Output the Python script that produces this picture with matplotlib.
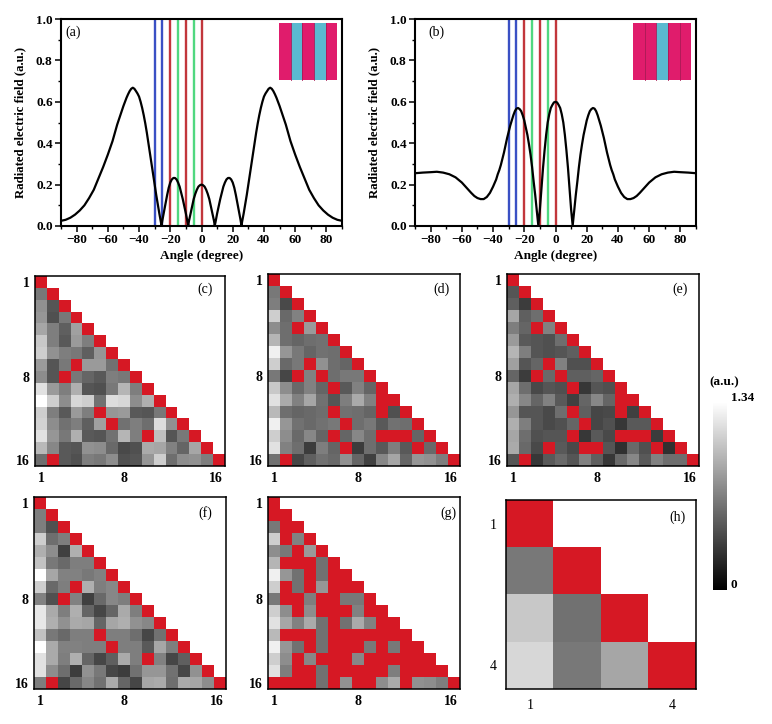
#!/usr/bin/env python3
"""Radiated field patterns (a, b) and correlation triangles (c-h)."""
import matplotlib
matplotlib.use("Agg")
import matplotlib.pyplot as plt
import numpy as np
from matplotlib.cm import ScalarMappable
from matplotlib.colors import ListedColormap, Normalize
from matplotlib.patches import Rectangle

plt.rcParams["font.family"] = ["Liberation Serif", "DejaVu Serif"]

W, H = 772, 724
R = None  # red cell

# --- field patterns, angle in degrees ---
angle_a = [-90, -87, -84, -81, -78, -75, -72, -69, -66, -63, -60, -57, -54, -52, -50, -49, -48, -47, -46, -45, -44,
           -43, -42, -41, -40, -39, -38, -37, -36, -35, -34, -33, -32, -31, -30, -29, -28, -27, -26, -25.6,
           -25, -24, -23, -22, -21, -20, -19, -18, -17, -16, -15, -14, -13, -12, -11, -10, -9, -8.5,
           -8, -7, -6, -5, -4, -3, -2, -1, 0,
           1, 2, 3, 4, 5, 6, 7, 8, 8.5,
           9, 10, 11, 12, 13, 14, 15, 16, 17, 18, 19, 20, 21, 22, 23, 24, 25, 25.6,
           26, 27, 28, 29, 30, 31, 32, 33, 34, 35, 36, 37, 38, 39, 40, 41, 42, 43,
           44, 45, 46, 47, 48, 49, 50, 52, 54, 57, 60, 63, 66, 69, 72, 75, 78, 81, 84, 87, 90]
field_a = [.025, .03, .04, .055, .075, .10, .135, .175, .23, .285, .345, .41, .49, .535, .58, .60, .62, .637, .652, .663, .668,
           .663, .652, .64, .625, .60, .57, .535, .495, .45, .40, .35, .30, .25, .20, .15, .105, .06, .02, .002,
           .03, .07, .11, .15, .185, .21, .225, .232, .232, .225, .21, .19, .16, .13, .095, .06, .02, .002,
           .025, .06, .095, .13, .155, .175, .19, .197, .20,
           .197, .19, .175, .155, .13, .095, .06, .025, .002,
           .02, .06, .095, .13, .16, .19, .21, .225, .232, .232, .225, .21, .185, .15, .11, .07, .03, .002,
           .02, .06, .105, .15, .20, .25, .30, .35, .40, .45, .495, .535, .57, .60, .625, .64, .652, .663,
           .668, .663, .652, .637, .62, .60, .58, .535, .49, .41, .345, .285, .23, .175, .135, .10, .075, .055, .04, .03, .025]

angle_b = [-90, -85, -80, -76, -72, -68, -64, -60, -57, -54, -52, -50, -48, -46, -44, -42, -40, -38, -37, -36, -35, -34,
           -33, -32, -31, -30, -29, -28, -27, -26, -25, -24, -23, -22, -21, -20, -19, -18, -17, -16, -15, -14, -13, -12, -11,
           -10, -9, -8, -7, -6, -5, -4, -3, -2, -1, 0,
           1, 2, 3, 4, 5, 6, 7, 8, 9, 10,
           11, 12, 13, 14, 15, 16, 17, 18, 19, 20, 21, 22, 23, 24, 25, 26, 27, 28, 29, 30, 31, 32, 33,
           34, 35, 36, 37, 38, 40, 42, 44, 46, 48, 50, 52, 54, 57, 60, 64, 68, 72, 76, 80, 85, 90]
field_b = [.255, .258, .26, .262, .258, .25, .235, .21, .185, .16, .145, .135, .13, .13, .14, .16, .19, .225, .25, .27, .295, .325,
           .355, .39, .425, .455, .485, .51, .535, .555, .567, .57, .565, .555, .535, .51, .475, .44, .395, .345, .285, .215, .15, .075, .002,
           .08, .18, .28, .365, .44, .50, .54, .57, .585, .597, .60,
           .597, .585, .57, .54, .50, .44, .365, .28, .18, .08,
           .002, .075, .15, .215, .285, .345, .395, .44, .475, .51, .535, .555, .565, .57, .567, .555, .535, .51, .485, .455, .425, .39, .355,
           .325, .295, .27, .25, .225, .19, .16, .14, .13, .13, .135, .145, .16, .185, .21, .235, .25, .258, .262, .26, .258, .255]

beam_angles = [-30, -25, -20, -15, -10, -5, 0]
beam_colors = ["#3a50c4", "#3a50c4", "#c2363c", "#50d880", "#c2363c", "#50d880", "#c2363c"]

layers_a = ["p", "t", "p", "t", "p"]
layers_b = ["p", "p", "t", "p", "p"]
layer_colors = {"p": "#e01c6c", "t": "#5abad0"}

# --- correlation values (a.u., 0-1.34), lower triangles ---
mat_c = [
    [R],
    [.63, R],
    [.76, .45, R],
    [.79, .42, .63, R],
    [.87, .66, .50, .84, R],
    [1.05, .66, .47, .81, .66, R],
    [1.08, .76, .66, .63, .50, .79, R],
    [.81, .45, .63, R, .81, .81, .60, R],
    [.74, .45, R, .63, .53, .47, .66, .63, R],
    [1.18, .81, .66, .92, .45, .42, .63, .95, .66, R],
    [1.34, 1.08, .74, 1.13, 1.08, .60, 1.16, 1.13, .74, .92, R],
    [1.08, .66, .47, .81, .66, R, .79, .81, .47, .45, .63, R],
    [1.10, .74, .60, .66, .50, .84, R, .60, .66, .58, 1.16, .76, R],
    [1.18, .79, .63, .92, .47, .45, .60, .95, .66, R, 1.00, .45, .63, R],
    [.97, .71, .47, .45, .76, .74, .55, .39, .42, .89, .87, .68, .53, .87, R],
    [.58, R, .47, .42, .66, .63, .74, .42, .45, .79, 1.08, .58, .74, .76, .66, R],
]
mat_d = [
    [R],
    [.63, R],
    [.66, .39, R],
    [1.08, .55, .68, R],
    [.74, .58, R, .81, R],
    [.95, .58, .53, .58, .60, R],
    [1.26, .79, .63, .53, .60, .58, R],
    [1.08, .55, .63, R, .76, .58, .53, R],
    [.63, .37, R, .68, R, .58, .63, .63, R],
    [1.05, .74, .55, .68, .53, R, .47, .68, .53, R],
    [1.18, .89, .68, .87, .60, .45, .66, .89, .68, R, R],
    [.97, .58, .53, .55, .58, R, .60, .58, .53, R, .42, R],
    [1.26, .79, .60, .55, .60, .63, R, .58, .63, .47, .60, .58, R],
    [1.08, .74, .55, .71, .53, R, .53, .71, .58, R, R, R, .53, R],
    [1.18, .68, .58, .32, .66, .53, R, .32, .58, .47, .66, .47, R, .55, R],
    [.60, R, .37, .50, .60, .55, .76, .53, .34, .71, .87, .53, .79, .76, .66, R],
]
mat_e = [
    [R],
    [.45, R],
    [.50, .32, R],
    [.87, .50, .58, R],
    [.66, .53, R, .68, R],
    [.81, .47, .45, .42, .58, R],
    [.95, .66, .45, .42, .45, .50, R],
    [.84, .45, .53, R, .68, .42, .42, R],
    [.53, .32, R, .55, R, .50, .50, .53, R],
    [.87, .58, .39, .45, .42, R, .29, .45, .42, R],
    [.92, .71, .53, .68, .47, .34, .53, .71, .53, R, R],
    [.79, .45, .45, .39, .58, R, .50, .37, .39, R, .34, R],
    [.92, .66, .45, .39, .42, .53, R, .37, .42, .29, .47, .47, R],
    [.87, .58, .42, .45, .45, R, .29, .47, .39, R, R, R, .32, R],
    [.89, .55, .39, R, .47, .39, R, R, .45, .26, .55, .42, R, .26, R],
    [.45, R, .29, .47, .55, .45, .68, .50, .29, .55, .71, .47, .68, .58, .58, R],
]
mat_f = [
    [R],
    [.66, R],
    [.66, .42, R],
    [1.08, .58, .66, R],
    [.92, .74, .34, .92, R],
    [1.02, .63, .55, .66, .66, R],
    [1.34, .87, .68, .68, .63, .68, R],
    [1.08, .55, .66, R, .92, .66, .71, R],
    [.68, .42, R, .68, .34, .55, .71, .66, R],
    [1.21, .89, .66, .92, .53, .37, .53, .89, .66, R],
    [1.21, .92, .76, .89, .87, .53, .87, .92, .76, .71, R],
    [1.02, .63, .55, .66, .66, R, .66, .66, .58, .37, .60, R],
    [1.34, .89, .68, .68, .66, .66, R, .66, .66, .47, .87, .66, R],
    [1.18, .89, .66, .92, .53, .37, .50, .89, .66, R, .68, .37, .50, R],
    [1.18, .74, .58, .32, .76, .63, .37, .32, .60, .79, .79, .60, .37, .76, R],
    [.66, R, .37, .55, .71, .60, .89, .53, .37, .87, .89, .58, .89, .87, .74, R],
]
mat_g = [
    [R],
    [R, R],
    [.63, R, R],
    [1.08, R, .68, R],
    [.74, .63, R, .81, R],
    [.95, R, R, R, .60, R],
    [1.26, .79, .60, R, .60, R, R],
    [1.08, R, .60, R, .79, R, R, R],
    [.63, R, R, .66, R, R, .63, .63, R],
    [1.08, .74, R, .74, R, R, R, .68, R, R],
    [1.18, .87, .68, .89, .60, R, .60, .89, .68, R, R],
    [.97, R, R, R, .60, R, R, R, R, R, R, R],
    [1.26, .79, .60, R, .60, R, R, R, .63, R, .63, R, R],
    [1.08, .74, R, .71, R, R, R, .71, R, R, R, R, R, R],
    [1.18, .66, R, R, .60, R, R, R, R, R, .66, R, R, R, R],
    [R, R, R, R, .60, R, .76, R, R, .74, .89, R, .76, .74, .66, R],
]
mat_h = [
    [R],
    [.63, R],
    [1.05, .60, R],
    [1.13, .63, .87, R],
]
panel_mats = {"c": mat_c, "d": mat_d, "e": mat_e, "f": mat_f, "g": mat_g, "h": mat_h}

# panel boxes in pixels: left, right, top, bottom
boxes = {
    "a": (61, 342, 19, 226), "b": (415, 696, 19, 226),
    "c": (35, 225, 276, 466), "d": (268, 460, 274, 466), "e": (507, 699, 274, 466),
    "f": (34, 226, 497, 689), "g": (268, 460, 497, 689), "h": (506, 696, 500, 689),
}
letter_pos = {"a": (73, 32), "b": (436, 32), "c": (205, 289), "d": (441, 289), "e": (680, 289),
              "f": (205, 513), "g": (448, 513), "h": (677, 517)}

RED = "#d61824"
BOLD = dict(fontweight="bold", fontsize=9.5)


def add_axes_px(fig, l, r, t, b):
    return fig.add_axes([l / W, 1 - b / H, (r - l) / W, (b - t) / H])


def plot_pattern(fig, key, angles, field, layers):
    ax = add_axes_px(fig, *boxes[key])
    for a, c in zip(beam_angles, beam_colors):
        ax.axvline(a, color=c, linewidth=1.7, zorder=1)
    ax.plot(angles, field, color="black", linewidth=1.6, zorder=2)
    ax.set_xlim(-90, 90)
    ax.set_ylim(0, 1)
    ax.set_xticks(np.arange(-80, 81, 20))
    ax.set_xticks(np.arange(-90, 91, 10), minor=True)
    ax.set_yticks(np.arange(0, 1.01, 0.2))
    ax.set_yticks(np.arange(0, 1.01, 0.1), minor=True)
    ax.set_xticklabels([str(v).replace("-", "\u2212") for v in range(-80, 81, 20)], **BOLD)
    ax.set_yticklabels([f"{v:.1f}" for v in np.arange(0, 1.01, 0.2)], **BOLD)
    ax.tick_params(which="major", length=4, width=1.1, pad=2)
    ax.tick_params(which="minor", length=2.5, width=1.0)
    for s in ax.spines.values():
        s.set_linewidth(1.5)
    ax.set_xlabel("Angle (degree)", labelpad=3, fontweight="bold", fontsize=9.5)
    ax.set_ylabel("Radiated electric field (a.u.)", labelpad=7, fontweight="bold", fontsize=9.2)
    # layer stack inset, sits in the top right corner
    for i, lay in enumerate(layers):
        x0 = 0.777 + i * 0.0412
        ax.add_patch(Rectangle((x0, 0.704), 0.0412, 0.278, transform=ax.transAxes,
                               facecolor=layer_colors[lay], edgecolor="none", zorder=3))
        if i:
            ax.plot([x0, x0], [0.704, 0.982], transform=ax.transAxes, color="#a81a55", linewidth=0.6, zorder=4)
    return ax


def plot_matrix(fig, key, rows, cmap, norm):
    n = len(rows)
    vals = np.full((n, n), np.nan)
    red = np.full((n, n), np.nan)
    for i, row in enumerate(rows):
        for j, v in enumerate(row):
            if v is None:
                red[i, j] = 1
            else:
                vals[i, j] = v
    ax = add_axes_px(fig, *boxes[key])
    ax.imshow(vals, cmap=cmap, norm=norm, aspect="auto", interpolation="nearest")
    ax.imshow(red, cmap=ListedColormap([RED]), aspect="auto", interpolation="nearest")
    if n == 16:
        ax.set_xticks([0, 7, 14.7], ["1", "8", "16"])
        ax.set_yticks([0, 8, 15], ["1", "8", "16"])
    else:
        ax.set_xticks([0, 3], ["1", "4"])
        ax.set_yticks([0, 3], ["1", "4"])
    ax.tick_params(length=0, labelsize=10, pad=4 if n == 16 else 7)
    if n == 16:
        for t in ax.get_xticklabels() + ax.get_yticklabels():
            t.set_fontweight("bold")
    for s in ax.spines.values():
        s.set_linewidth(1.1)
    return ax


def main():
    fig = plt.figure(figsize=(W / 100, H / 100), dpi=100)
    cmap = plt.get_cmap("gray").copy()
    cmap.set_bad("white")
    norm = Normalize(0, 1.34)

    plot_pattern(fig, "a", angle_a, field_a, layers_a)
    plot_pattern(fig, "b", angle_b, field_b, layers_b)
    for key, rows in panel_mats.items():
        plot_matrix(fig, key, rows, cmap, norm)

    for key, (x, y) in letter_pos.items():
        fig.text(x / W, 1 - y / H, f"({key})", ha="center", va="center", fontsize=10)

    cax = add_axes_px(fig, 713, 727, 402, 590)
    cb = fig.colorbar(ScalarMappable(norm=norm, cmap=cmap), cax=cax, ticks=[])
    cb.outline.set_visible(False)
    fig.text(743 / W, 1 - 398 / H, "1.34", ha="center", va="center", fontweight="bold", fontsize=9.5)
    fig.text(734 / W, 1 - 585 / H, "0", ha="center", va="center", fontweight="bold", fontsize=9.5)
    fig.text(724 / W, 1 - 382 / H, "(a.u.)", ha="center", va="center", **BOLD)

    fig.savefig("out.png", dpi=100)


if __name__ == "__main__":
    main()
